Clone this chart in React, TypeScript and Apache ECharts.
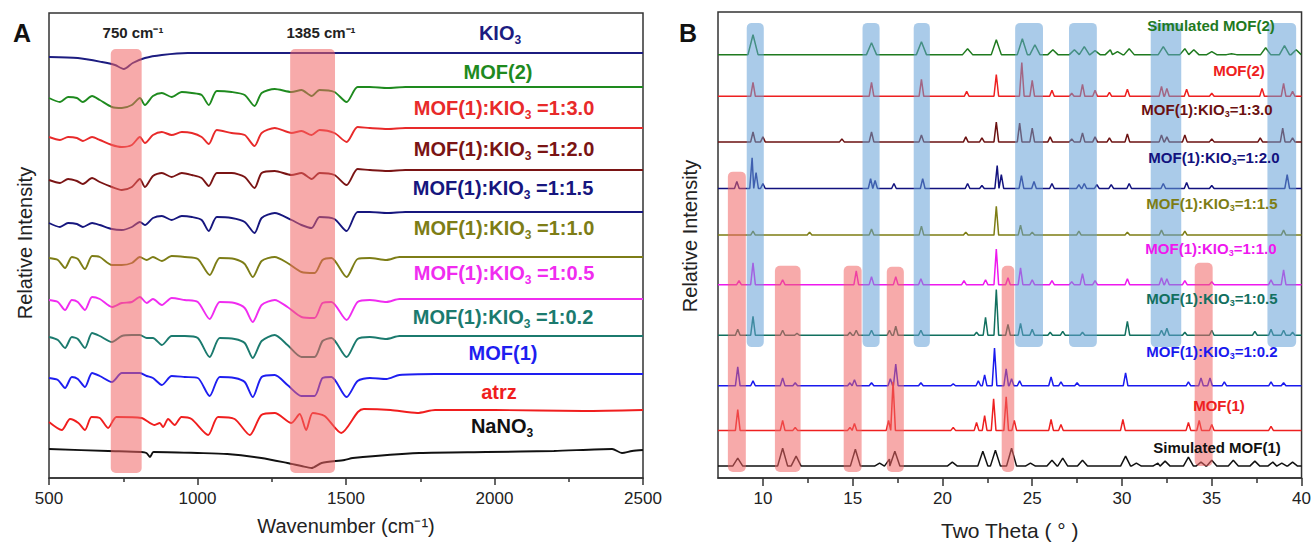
import React, { useEffect, useRef } from "react";
import * as echarts from "echarts";

const FONT = '"Liberation Sans", Arial, Helvetica, sans-serif';

// ---------- Panel A (FTIR) ----------
const A_TICKS = [500, 1000, 1500, 2000, 2500];
// wavenumber grid for MOF(2)-like spectra
const WN_F2 = [500, 537, 564, 594, 614, 645, 671, 712, 745, 779, 806, 823, 850, 880, 913, 947, 981, 1014, 1038, 1065, 1115, 1159, 1192, 1216, 1260, 1317, 1350, 1384, 1411, 1461, 1502, 1539, 1580, 1640, 1700, 1800, 2000, 2200, 2400, 2500];
const IR_MOF2 = [-11, -15, -10, -11, -15, -9, -13, -20, -21, -18, -11, -18, -9, -6, -10, -5, -6, -8, -18, -4, -5, -8, -19, -6, -2, -5, -3, -9, -3, -5, -15, 0, 0, -1, 0, 0, 0, 0, 0, 0];
const IR_R30 = [-9, -12, -9, -10, -13, -9, -12, -17, -19, -17, -9, -15, -7, -4, -7, -4, -5, -9, -16, -2, -5, -7, -18, -5, 0, -5, -3, -7, -2, -5, -14, 1, 0, -1, 0, 0, 0, 0, 0, 0];
const IR_R20 = [-10, -13, -9, -11, -14, -8, -12, -17, -20, -17, -9, -17, -6, -3, -7, -3, -5, -8, -16, -3, -3, -7, -18, -3, -1, -5, -3, -9, -3, -5, -15, 1, 0, -1, 0, 0, 0, 0, 0, 0];
const IR_R15 = [-11, -15, -11, -12, -15, -11, -13, -17, -18, -15, -10, -13, -6, -4, -8, -4, -5, -8, -19, -5, -6, -10, -21, -6, -1, -8, -13, -16, -5, -7, -19, 0, 0, -1, 0, 0, 0, 0, 0, 0];
// wavenumber grid for MOF(1)-like spectra
const WN_F1 = [500, 530, 554, 577, 597, 621, 645, 671, 712, 745, 779, 806, 829, 850, 880, 913, 957, 1001, 1041, 1075, 1125, 1159, 1186, 1216, 1260, 1303, 1350, 1394, 1421, 1451, 1502, 1539, 1580, 1636, 1680, 1800, 2000, 2200, 2400, 2500];
const IR_R10 = [-1, -3, -11, 0, -2, -12, 1, 0, -8, -8, -6, 0, -3, 0, -4, 1, 0, -2, -18, -1, -2, -7, -20, -4, 0, -6, -15, -16, -3, -1, -20, -2, -1, -3, 0, 0, 0, 0, 0, 0];
const IR_R05 = [-1, -3, -11, -1, -3, -11, 2, 0, -8, -4, -3, 2, -4, 0, -6, 1, -1, -3, -20, -3, -4, -9, -23, -6, -1, -8, -18, -19, -4, -3, -21, -3, -1, -3, 0, 0, 0, 0, 0, 0];
const IR_R02 = [-1, -4, -12, -1, -3, -12, 3, 0, -6, 0, 1, 1, -2, -2, -9, 0, 0, -2, -21, -2, -3, -7, -22, -5, 1, -9, -21, -21, -5, -2, -21, -3, -1, -3, 0, 0, 0, 0, 0, 0];
const IR_MOF1 = [-4, -6, -14, -3, -5, -13, 1, -2, -8, 1, 1, 1, -2, -4, -11, -2, -3, -4, -22, -3, -4, -8, -23, -3, -1, -11, -22, -22, -4, -3, -23, -7, -4, -5, -1, 0, 0, 0, 0, 0];
const IR_KIO3 = [[500, -4], [597, -5], [678, -9], [722, -12], [752, -16], [782, -10], [823, -5], [880, -2], [967, 0], [1200, 0], [1500, 0], [1800, 0], [2100, 0], [2500, 0]];
const IR_ATRZ = [[500, -12], [543, -20], [571, -9], [599, -13], [621, -20], [643, -7], [671, -8], [699, -18], [727, -7], [811, -8], [856, -15], [873, -13], [884, -17], [901, -9], [923, -15], [946, -7], [980, -9], [1036, -25], [1069, -7], [1125, -9], [1176, -25], [1215, -5], [1260, -3], [1316, -13], [1344, -4], [1366, -20], [1388, -3], [1428, -6], [1484, -23], [1540, -2], [1560, 1], [1650, 0], [1740, -3], [1800, 0], [2000, 0], [2300, -1], [2500, 0]];
const IR_NANO3 = [[500, 1], [700, -1], [811, -2], [828, -3], [840, -7], [852, -2], [1000, -3], [1100, -4], [1215, -8], [1303, -13], [1350, -16], [1384, -18], [1418, -13], [1495, -10], [1523, -8], [1747, -3], [1972, -2], [2200, -1], [2396, 1], [2429, -3], [2463, -1], [2500, 0]];
const A_NAMES = ["KIO3", "MOF(2)", "MOF(1):KIO3 =1:3.0", "MOF(1):KIO3 =1:2.0", "MOF(1):KIO3 =1:1.5", "MOF(1):KIO3 =1:1.0", "MOF(1):KIO3 =1:0.5", "MOF(1):KIO3 =1:0.2", "MOF(1)", "atrz", "NaNO3"];
const A_OFFSETS = [425, 391, 350, 308, 266, 221, 179, 142, 104, 68, 28];
const A_BANDS = [[708, 812, 5, 429], [1312, 1463, 5, 429]];
const A_BAND_LABELS = ["750 cm⁻¹", "1385 cm⁻¹"];

// ---------- Panel B (PXRD) ----------
const B_TICKS = [10, 15, 20, 25, 30, 35, 40];
const B_MINOR = [12.5, 17.5, 22.5, 27.5, 32.5, 37.5];
const XRD_SIM2 = [[9.45, 20], [16.05, 12], [18.83, 13], [21.4, 6], [23.0, 15], [24.45, 16], [25.15, 10], [26.15, 5], [27.35, 5], [27.9, 8], [28.5, 4], [29.35, 5], [29.75, 3], [30.4, 6], [32.3, 8], [33.5, 6], [34.0, 5], [35.0, 3], [36.1, 1], [38.0, 7], [39.05, 9], [39.7, 5]];
const XRD_MOF2 = [[9.45, 14], [16.05, 14], [18.83, 17], [21.35, 5], [23.0, 22], [24.42, 34], [25.0, 16], [26.1, 6], [27.2, 3], [27.8, 12], [28.5, 6], [29.3, 4], [30.3, 7], [32.2, 10], [32.5, 8], [33.6, 7], [35.0, 3], [37.8, 8], [39.0, 13], [39.5, 5]];
const XRD_R30 = [[9.45, 10], [10.0, 5], [14.4, 3], [16.05, 10], [18.83, 7], [21.3, 5], [22.2, 4], [23.0, 20], [24.3, 19], [25.0, 14], [26.0, 5], [27.2, 3], [27.8, 9], [28.5, 5], [29.3, 4], [30.3, 8], [32.2, 7], [32.5, 5], [33.5, 7], [35.0, 3], [37.7, 4], [38.95, 14], [39.5, 4]];
const XRD_R20 = [[8.55, 7], [9.4, 31], [9.62, 16], [10.0, 5], [16.0, 10], [16.25, 8], [17.3, 5], [18.9, 10], [21.4, 5], [22.2, 3], [23.05, 23], [23.28, 14], [24.4, 13], [25.1, 7], [26.1, 5], [27.6, 4], [27.9, 5], [28.6, 4], [29.4, 4], [30.4, 5], [32.3, 5], [33.6, 6], [35.0, 3], [39.2, 14]];
const XRD_R15 = [[9.45, 4], [12.6, 3], [16.05, 6], [18.83, 9], [21.3, 3], [23.0, 29], [24.35, 10], [25.0, 3], [27.6, 4], [30.3, 3], [32.2, 5], [33.5, 4], [39.0, 5]];
const XRD_R10 = [[8.67, 4], [9.45, 22], [11.1, 5], [15.2, 14], [16.05, 8], [17.4, 8], [18.8, 6], [21.2, 4], [22.4, 5], [23.0, 36], [23.65, 7], [24.35, 17], [25.0, 5], [26.1, 4], [27.2, 3], [27.8, 11], [28.5, 4], [30.3, 6], [32.2, 7], [32.5, 6], [33.5, 4], [35.0, 3], [38.3, 5], [39.0, 15]];
const XRD_R05 = [[8.6, 6], [9.45, 19], [11.1, 5], [11.9, 2], [14.85, 3], [15.2, 5], [16.05, 5], [17.05, 5], [17.4, 9], [18.8, 5], [21.9, 3], [22.4, 18], [23.0, 46], [23.65, 11], [24.35, 12], [25.0, 6], [26.0, 3], [26.7, 4], [27.8, 3], [30.3, 14], [32.2, 5], [32.5, 7], [33.5, 3], [35.0, 5], [37.4, 4], [38.3, 6], [39.0, 5], [39.5, 3]];
const XRD_R02 = [[8.6, 19], [9.45, 5], [11.1, 8], [11.8, 3], [14.85, 3], [15.1, 6], [16.05, 3], [17.1, 7], [17.4, 22], [18.8, 3], [20.6, 2], [22.0, 5], [22.35, 11], [22.9, 38], [23.55, 17], [23.85, 7], [24.3, 5], [26.05, 9], [26.6, 4], [27.5, 3], [30.2, 13], [33.7, 4], [34.4, 8], [34.9, 8], [35.7, 4], [38.3, 4], [39.0, 3]];
const XRD_MOF1 = [[8.6, 21], [11.1, 10], [11.8, 3], [14.85, 3], [15.1, 7], [17.0, 10], [17.25, 49], [20.6, 3], [21.9, 8], [22.35, 15], [22.85, 32], [23.55, 34], [24.0, 10], [26.05, 11], [26.6, 6], [30.05, 11], [33.7, 8], [34.3, 10], [35.0, 6], [38.3, 4]];
const XRD_SIM1 = [[8.6, 8], [11.1, 18], [11.85, 10], [15.15, 17], [16.5, 3], [17.05, 7], [17.35, 15], [20.55, 4], [22.25, 15], [22.95, 16], [23.85, 18], [24.9, 3], [26.1, 6], [26.7, 8], [27.8, 6], [30.2, 10], [30.8, 3], [32.0, 3], [32.4, 5], [33.7, 9], [34.4, 4], [35.0, 6], [36.2, 6], [37.4, 5], [38.4, 4], [38.9, 3], [39.5, 4]];
const B_NAMES = ["Simulated MOF(2)", "MOF(2)", "MOF(1):KIO3=1:3.0", "MOF(1):KIO3=1:2.0", "MOF(1):KIO3=1:1.5", "MOF(1):KIO3=1:1.0", "MOF(1):KIO3=1:0.5", "MOF(1):KIO3=1:0.2", "MOF(1)", "Simulated MOF(1)"];
const B_OFFSETS = [427, 385, 339, 292, 245, 195, 144, 93, 48, 12];
const B_BLUE = [[9.1, 10.05, 132, 459], [15.55, 16.5, 132, 459], [18.4, 19.3, 132, 459], [24.05, 25.6, 132, 459], [27.05, 28.6, 132, 459], [31.6, 33.3, 132, 459], [38.1, 39.7, 132, 459]];
const B_PINK = [[8.05, 9.05, 6, 309], [10.67, 12.1, 6, 214], [14.5, 15.5, 6, 214], [16.9, 17.85, 6, 213], [23.3, 24.0, 6, 214], [34.05, 35.05, 12, 217]];

// ---------- styles / layout ----------
const A_COLORS = ["#1c1c80", "#1e8a1e", "#e82a2a", "#7a1414", "#16167e", "#7d7d16", "#f02cf0", "#1b7a6e", "#1e1ef0", "#f01e1e", "#111111"];
const B_COLORS = ["#1f7a1f", "#ee2020", "#6b1111", "#12127e", "#7d7d14", "#ee18ee", "#12705f", "#1a1aee", "#ee2020", "#111111"];
const A_LABEL_POS = [[500, 33], [498, 72], [504, 108], [504, 149], [503, 188], [504, 228], [504, 273], [503, 317], [503, 353], [499, 392], [502, 426]];
const B_LABEL_POS = [[1211, 25], [1239, 70], [1207, 109], [1214, 157], [1212, 203], [1211, 248], [1212, 298], [1212, 351], [1219, 405], [1217, 447]];

function richText(s: string) {
  const i = s.indexOf("KIO3");
  if (i < 0) {
    if (s === "NaNO3") return "{n|NaNO}{s|3}";
    return "{n|" + s + "}";
  }
  const before = s.slice(0, i) + "KIO";
  const after = s.slice(i + 4);
  return "{n|" + before + "}{s|3}" + (after ? "{n|" + after + "}" : "");
}

function buildPattern(peaks: number[][], hw: number, off: number) {
  const pts: number[][] = [[7.5, off]];
  peaks.forEach(([p, h], i) => {
    const next = peaks[i + 1];
    const left = p - hw;
    if (left > pts[pts.length - 1][0]) pts.push([left, off]);
    pts.push([p, off + h]);
    if (!next || next[0] - hw > p + hw) pts.push([p + hw, off]);
  });
  pts.push([40, off]);
  return pts;
}

export default function App() {
  const ref = useRef<HTMLDivElement>(null);
  useEffect(() => {
    if (!ref.current) return;
    const chart = echarts.init(ref.current, undefined, { renderer: "svg" });

    const irData: number[][][] = [
      IR_KIO3,
      WN_F2.map((w, i) => [w, IR_MOF2[i]]),
      WN_F2.map((w, i) => [w, IR_R30[i]]),
      WN_F2.map((w, i) => [w, IR_R20[i]]),
      WN_F2.map((w, i) => [w, IR_R15[i]]),
      WN_F1.map((w, i) => [w, IR_R10[i]]),
      WN_F1.map((w, i) => [w, IR_R05[i]]),
      WN_F1.map((w, i) => [w, IR_R02[i]]),
      WN_F1.map((w, i) => [w, IR_MOF1[i]]),
      IR_ATRZ,
      IR_NANO3,
    ];
    const xrd = [XRD_SIM2, XRD_MOF2, XRD_R30, XRD_R20, XRD_R15, XRD_R10, XRD_R05, XRD_R02, XRD_MOF1, XRD_SIM1];
    const sim = [true, false, false, false, false, false, false, false, false, true];

    const series: any[] = [];
    irData.forEach((d, k) => {
      series.push({
        type: "line",
        name: A_NAMES[k],
        xAxisIndex: 0,
        yAxisIndex: 0,
        showSymbol: false,
        smooth: 0.25,
        z: 2,
        silent: true,
        lineStyle: { color: A_COLORS[k], width: 1.9 },
        data: d.map(([x, v]) => [x, A_OFFSETS[k] + v]),
      });
    });
    xrd.forEach((pk, k) => {
      series.push({
        type: "line",
        name: B_NAMES[k],
        xAxisIndex: 1,
        yAxisIndex: 1,
        showSymbol: false,
        z: 2,
        silent: true,
        lineStyle: { color: B_COLORS[k], width: 1.5 },
        data: buildPattern(pk, sim[k] ? 0.28 : 0.13, B_OFFSETS[k]),
      });
    });
    const band = (data: number[][], xi: number, color: string) => ({
      type: "custom",
      xAxisIndex: xi,
      yAxisIndex: xi === 0 ? 0 : 1,
      z: 3,
      silent: true,
      encode: { x: [0, 1], y: [2, 3] },
      data,
      renderItem: (params: any, api: any) => {
        const a = api.coord([api.value(0), api.value(3)]);
        const b = api.coord([api.value(1), api.value(2)]);
        return {
          type: "rect",
          shape: { x: a[0], y: a[1], width: b[0] - a[0], height: b[1] - a[1], r: 5 },
          style: { fill: color },
        };
      },
    });
    series.push(band(A_BANDS, 0, "rgba(240,100,100,0.55)"));
    series.push(band(B_BLUE, 1, "rgba(100,160,215,0.55)"));
    series.push(band(B_PINK, 1, "rgba(240,100,100,0.55)"));

    const axisLine = { show: true, lineStyle: { color: "#333", width: 1.5 } };
    const graphics: any[] = [];
    const top = { z: 100, zlevel: 1 };
    A_NAMES.forEach((n, k) => {
      graphics.push({
        type: "text",
        ...top,
        x: A_LABEL_POS[k][0],
        y: A_LABEL_POS[k][1],
        style: {
          text: richText(n),
          align: "center",
          verticalAlign: "middle",
          rich: {
            n: { fontSize: 20, fontWeight: "bold", fontFamily: FONT, fill: A_COLORS[k] },
            s: { fontSize: 12, fontWeight: "bold", fontFamily: FONT, fill: A_COLORS[k], padding: [14, 0, 0, 0] },
          },
        },
      });
    });
    B_NAMES.forEach((n, k) => {
      graphics.push({
        type: "text",
        ...top,
        x: B_LABEL_POS[k][0],
        y: B_LABEL_POS[k][1],
        style: {
          text: richText(n),
          align: "center",
          verticalAlign: "middle",
          rich: {
            n: { fontSize: 15, fontWeight: "bold", fontFamily: FONT, fill: B_COLORS[k] },
            s: { fontSize: 9, fontWeight: "bold", fontFamily: FONT, fill: B_COLORS[k], padding: [10, 0, 0, 0] },
          },
        },
      });
    });
    [[133, 32], [321, 32]].forEach(([x, y], k) => {
      graphics.push({
        type: "text", x, y, ...top,
        style: { text: A_BAND_LABELS[k], align: "center", verticalAlign: "middle", fontSize: 15, fontWeight: "bold", fontFamily: FONT, fill: "#222" },
      });
    });
    graphics.push({ type: "text", ...top, x: 22, y: 33, style: { text: "A", align: "center", verticalAlign: "middle", fontSize: 25, fontWeight: "bold", fontFamily: FONT, fill: "#111" } });
    graphics.push({ type: "text", ...top, x: 688, y: 33, style: { text: "B", align: "center", verticalAlign: "middle", fontSize: 25, fontWeight: "bold", fontFamily: FONT, fill: "#111" } });
    graphics.push({ type: "text", ...top, x: 25, y: 243, rotation: Math.PI / 2, style: { text: "Relative Intensity", align: "center", verticalAlign: "middle", fontSize: 20, fontFamily: FONT, fill: "#222" } });
    graphics.push({ type: "text", ...top, x: 690, y: 236, rotation: Math.PI / 2, style: { text: "Relative Intensity", align: "center", verticalAlign: "middle", fontSize: 20, fontFamily: FONT, fill: "#222" } });

    chart.setOption({
      animation: false,
      backgroundColor: "#fff",
      grid: [
        { left: 49, right: 671, top: 13, bottom: 68, show: true, borderColor: "#333", borderWidth: 1.5 },
        { left: 718, right: 11, top: 12, bottom: 64, show: true, borderColor: "#333", borderWidth: 1.5 },
      ],
      xAxis: [
        {
          gridIndex: 0, type: "value", min: 500, max: 2500, interval: 500,
          axisLine,
          axisTick: { show: true, inside: false, length: 7, lineStyle: { color: "#333", width: 1.5 } },
          minorTick: { show: true, splitNumber: 2, length: 4, lineStyle: { color: "#333", width: 1.5 } },
          axisLabel: { fontSize: 17, color: "#222", fontFamily: FONT, margin: 12, formatter: (v: number) => (A_TICKS.indexOf(v) >= 0 ? String(v) : "") },
          splitLine: { show: false },
          name: "Wavenumber (cm⁻¹)", nameLocation: "middle", nameGap: 38,
          nameTextStyle: { fontSize: 20, color: "#222", fontFamily: FONT },
        },
        {
          gridIndex: 1, type: "value", min: 7.5, max: 40, position: "bottom",
          axisLine,
          axisTick: { show: true, inside: false, length: 8, customValues: B_TICKS, lineStyle: { color: "#333", width: 1.5 } },
          axisLabel: { fontSize: 17, color: "#222", fontFamily: FONT, margin: 12, customValues: B_TICKS },
          splitLine: { show: false },
          name: "Two Theta ( ° )", nameLocation: "middle", nameGap: 42,
          nameTextStyle: { fontSize: 21, color: "#222", fontFamily: FONT },
        },
        {
          gridIndex: 1, type: "value", min: 7.5, max: 40, position: "bottom",
          axisLine: { show: false },
          axisTick: { show: true, inside: false, length: 5, customValues: B_MINOR, lineStyle: { color: "#333", width: 1.5 } },
          axisLabel: { show: false, customValues: B_MINOR },
          splitLine: { show: false },
        },
      ],
      yAxis: [
        { gridIndex: 0, type: "value", min: 0, max: 465, axisLine: { show: false }, axisTick: { show: false }, axisLabel: { show: false }, splitLine: { show: false } },
        { gridIndex: 1, type: "value", min: 0, max: 470, axisLine: { show: false }, axisTick: { show: false }, axisLabel: { show: false }, splitLine: { show: false } },
      ],
      series,
      graphic: { elements: graphics },
    });
    return () => chart.dispose();
  }, []);
  return <div ref={ref} style={{ position: "fixed", left: 0, top: 0, width: 1314, height: 546 }} />;
}
